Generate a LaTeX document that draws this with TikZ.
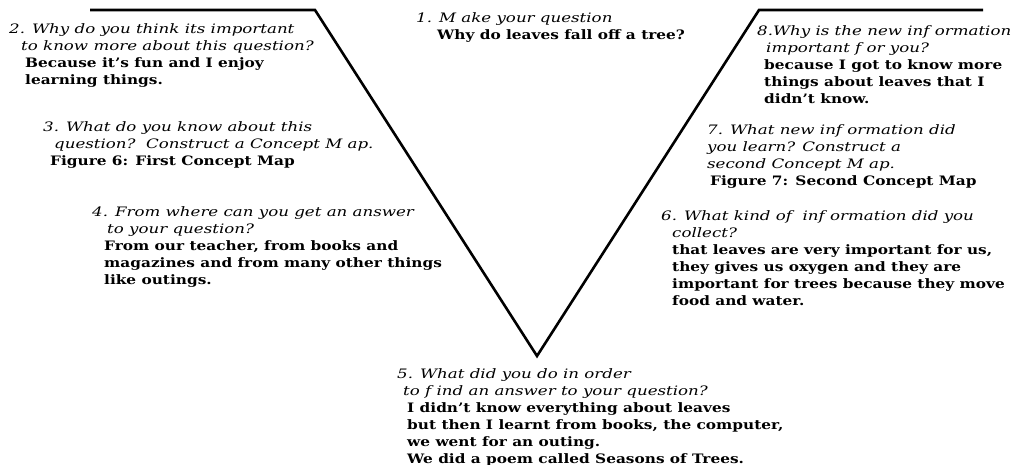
\documentclass[tikz,border=0pt]{standalone}
\usepackage{fontspec}
\setmainfont{DejaVu Serif}[ItalicFeatures={FakeStretch=1.28},
                           BoldFeatures={FakeStretch=1.18}]
\usetikzlibrary{positioning}
\tikzset{
  vee/.style={x=1pt, y=-1pt},
  v line/.style={line width=2.6pt, line join=miter},
  v item/.style={anchor=north west, inner sep=0pt, align=left,
                 font=\fontsize{13}{17}\selectfont},
}
\newcommand{\ask}[2][0pt]{\hspace*{#1}{\itshape #2}}
\newcommand{\ans}[2][0pt]{\hspace*{#1}{\bfseries #2}}

\begin{document}
\begin{tikzpicture}[vee]
\useasboundingbox (0,0) rectangle (1016,465);
% ---- the V ----
\coordinate (lt)  at (90,10);
\coordinate (lc)  at (315,10);
\coordinate (vtx) at (537,356);
\coordinate (rc)  at (759,10);
\coordinate (rt)  at (983,10);
\draw[v line] (lt) -- (lc) -- (vtx) -- (rc) -- (rt);
% ---- 1 ----
\node[v item] (q1) at (416,12) {\ask{1. M ake your question}\\
  \ans[21pt]{Why do leaves fall off a tree?}};
% ---- 2 ----
\node[v item] (q2) at (9,23) {\ask{2. Why do you think its important}\\
  \ask[12pt]{to know more about this question?}\\
  \ans[16pt]{Because it’s fun and I enjoy}\\
  \ans[16pt]{learning things.}};
% ---- 3 ----
\node[v item] (q3) at (43,121) {\ask{3. What do you know about this}\\
  \ask[11pt]{question?\ \ Construct a Concept M ap.}\\
  \ans[7pt]{Figure 6: First Concept Map}};
% ---- 4 ----
\node[v item] (q4) at (92,206) {\ask{4. From where can you get an answer}\\
  \ask[15pt]{to your question?}\\
  \ans[12pt]{From our teacher, from books and}\\
  \ans[12pt]{magazines and from many other things}\\
  \ans[12pt]{like outings.}};
% ---- 5 ----
\node[v item] (q5) at (397,368) {\ask{5. What did you do in order}\\
  \ask[6pt]{to f ind an answer to your question?}\\
  \ans[10pt]{I didn’t know everything about leaves}\\
  \ans[10pt]{but then I learnt from books, the computer,}\\
  \ans[10pt]{we went for an outing.}\\
  \ans[10pt]{We did a poem called Seasons of Trees.}};
% ---- 6 ----
\node[v item] (q6) at (661,210) {\ask{6. What kind of\ \ inf ormation did you}\\
  \ask[11pt]{collect?}\\
  \ans[11pt]{that leaves are very important for us,}\\
  \ans[11pt]{they gives us oxygen and they are}\\
  \ans[11pt]{important for trees because they move}\\
  \ans[11pt]{food and water.}};
% ---- 7 ----
\node[v item] (q7) at (707,124) {\ask{7. What new inf ormation did}\\
  \ask{you learn? Construct a}\\
  \ask{second Concept M ap.}\\
  \ans[3pt]{Figure 7: Second Concept Map}};
% ---- 8 ----
\node[v item] (q8) at (757,25) {\ask{8.Why is the new inf ormation}\\
  \ask[9pt]{important f or you?}\\
  \ans[7pt]{because I got to know more}\\
  \ans[7pt]{things about leaves that I}\\
  \ans[7pt]{didn’t know.}};
\end{tikzpicture}
\end{document}
